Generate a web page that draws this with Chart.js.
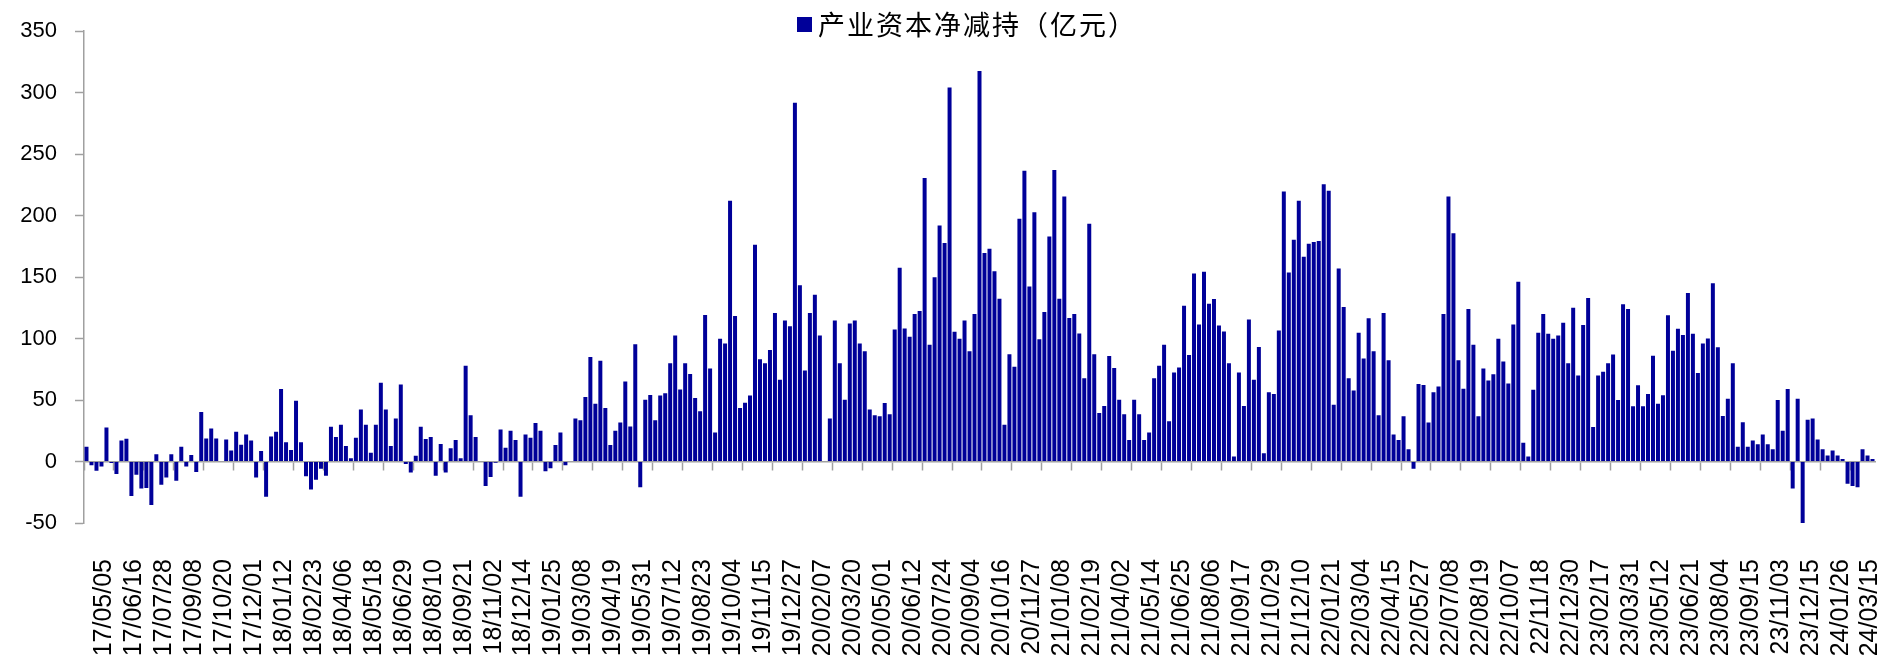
<!DOCTYPE html>
<html>
<head>
<meta charset="utf-8">
<script src="https://cdn.jsdelivr.net/npm/chart.js@4.4.1/dist/chart.umd.min.js"></script>
<style>
  html, body { margin: 0; padding: 0; background: #fff; }
  #chart { display: block; }
</style>
</head>
<body>
<canvas id="chart" width="1885" height="667"></canvas>
<script>
const seriesName = '产业资本净减持（亿元）';

// every 6th week gets a label on the axis
const tickLabels = [
  '17/05/05', '17/06/16', '17/07/28', '17/09/08', '17/10/20', '17/12/01',
  '18/01/12', '18/02/23', '18/04/06', '18/05/18', '18/06/29', '18/08/10',
  '18/09/21', '18/11/02', '18/12/14', '19/01/25', '19/03/08', '19/04/19',
  '19/05/31', '19/07/12', '19/08/23', '19/10/04', '19/11/15', '19/12/27',
  '20/02/07', '20/03/20', '20/05/01', '20/06/12', '20/07/24', '20/09/04',
  '20/10/16', '20/11/27', '21/01/08', '21/02/19', '21/04/02', '21/05/14',
  '21/06/25', '21/08/06', '21/09/17', '21/10/29', '21/12/10', '22/01/21',
  '22/03/04', '22/04/15', '22/05/27', '22/07/08', '22/08/19', '22/10/07',
  '22/11/18', '22/12/30', '23/02/17', '23/03/31', '23/05/12', '23/06/21',
  '23/08/04', '23/09/15', '23/11/03', '23/12/15', '24/01/26', '24/03/15'
];

// weekly net reduction, 100 million yuan
const values = [
  12, -3, -7.5, -4, 27.7, -1.3, -10.2, 17, 18.5, -28, -10.7, -22, -21.5, -35.4, 6, -18.8, -12.9, 6, -15.6, 12, -4,
  5.4, -8.6, 40.3, 18.8, 26.9, 18.8, 0, 18, 8.9, 24.2, 13.7, 22, 17.2, -12.9, 8.6, -28.7, 20.4, 24.2, 59, 15.6, 9.4, 49.4, 15.6, -12, -22.8,
  -14.8, -5.9, -11.5, 28.2, 20, 30, 12.6, 2.7, 19.3, 42.4, 30, 7.2, 30, 64, 42.4, 12.6, 35, 62.6, -2, -8.9, 4.6, 28.2, 18.3, 20, -11.5,
  14.2, -8.9, 10.7, 17.5, 2.7, 77.9, 37.6, 20, 0, -20, -12.6, -1, 26, 11.3, 25, 17.5, -28.7, 22, 19.3, 31.4, 25, -8, -5.4, 13.4, 23.6,
  -3, 0, 35, 33.6, 52.4, 85, 47, 82, 43.5, 13.4, 25, 31.7, 65, 28.5, 95.3, -21, 50.2, 54.2, 33.6, 53.7, 55.6, 80, 102.6, 58.5, 80,
  71.2, 51.6, 40.8, 119.2, 75.7, 23.6, 99.9, 95.9, 212, 118.4, 43.5, 47.8, 53.7, 176.4, 83.2, 80, 90.7, 120.8, 66.6, 114.6, 110.1, 291.9, 143.4, 74.1, 120.8,
  135.6, 102.6, 0, 35, 114.8, 80, 50.2, 112.2, 114.8, 95.9, 89.7, 42.4, 37.6, 36.8, 47.5, 38.4, 107.4, 157.6, 108.2, 101.5, 120, 122.4, 230.6, 95, 149.8,
  192, 177.7, 304.2, 105.5, 99.9, 114.6, 89.7, 120, 317.6, 169.6, 173.1, 154.7, 132.4, 30, 87.3, 77.1, 197.4, 236.4, 142.3, 202.7, 99.4, 121.6, 183.1, 237.2, 132.4, 215.6,
  116.8, 120, 104.2, 67.7, 193.3, 87.3, 39.5, 45.1, 85.9, 76, 50.2, 38.4, 17.5, 50.2, 38.4, 17.5, 23.6, 67.7, 77.9, 95, 32.8, 72.5, 76.5, 126.7, 86.7,
  153, 111.4, 154.4, 128.3, 132.1, 110.6, 105.8, 80, 4, 72.5, 45.1, 115.5, 66.6, 93.2, 6.7, 56.4, 55, 106.6, 219.6, 153.8, 180.4, 212.1, 166.5, 177.2, 178.5,
  179.4, 225.6, 220.2, 46.2, 157, 125.7, 67.7, 57.7, 104.7, 83.8, 116.5, 89.7, 37.6, 120.8, 82.4, 22, 17.5, 36.8, 9.9, -5.9, 63.1, 62.3, 31.7, 56.4, 61,
  120, 215.6, 185.6, 82.4, 59.1, 124, 95, 36.8, 75.7, 65.8, 70.9, 99.9, 81.4, 63.4, 111.4, 146.3, 15.3, 4, 58.3, 104.7, 120, 103.9, 99.9, 102.6, 112.8,
  80, 125, 70, 111, 133, 28, 70, 73, 80, 87, 50, 128, 124, 45, 62, 45, 55, 86, 47, 54, 119, 90, 108, 103, 137, 104, 72, 96, 100,
  145, 93, 37, 51, 80, 12, 32, 12, 17, 14, 22, 14, 10, 50, 25, 59, -22, 51, -50,
  34, 35, 18, 10, 5, 9, 5, 2, -18, -20, -21, 10, 5, 2
];

const categories = values.map((v, i) => (i % 6 === 0 && tickLabels[i / 6]) || '');

const axisGrey = '#a0a0a0';
const latin = 'Liberation Sans, Arial, sans-serif';

// series key drawn above the plot, like the original
const seriesKey = {
  id: 'seriesKey',
  afterDraw(chart) {
    const ds = chart.data.datasets[0];
    const ctx = chart.ctx;
    ctx.save();
    ctx.fillStyle = ds.backgroundColor;
    ctx.fillRect(797, 17, 15, 15);
    ctx.fillStyle = '#000';
    ctx.font = '27px "Noto Sans CJK SC"';
    ctx.letterSpacing = '2px';
    ctx.textBaseline = 'middle';
    ctx.fillText(ds.label, 818, 25);
    ctx.restore();
  }
};

new Chart(document.getElementById('chart'), {
  type: 'bar',
  data: {
    labels: categories,
    datasets: [{
      label: seriesName,
      data: values,
      backgroundColor: '#000099',
      borderWidth: 0,
      categoryPercentage: 1,
      barPercentage: 0.8,
      xAxisID: 'x',
      yAxisID: 'y'
    }]
  },
  plugins: [seriesKey],
  options: {
    responsive: false,
    animation: false,
    devicePixelRatio: 1,
    layout: { padding: { left: 0, right: 10, top: 27, bottom: 0 } },
    plugins: {
      legend: { display: false },
      tooltip: { enabled: false }
    },
    scales: {
      // axis line sits on zero, tick marks every 6 weeks
      x: {
        type: 'category',
        position: { y: 0 },
        offset: true,
        grid: {
          offset: true,
          drawOnChartArea: false,
          tickLength: 8,
          tickWidth: 1.5,
          tickColor: ctx => (ctx.index % 6 === 0 ? axisGrey : 'rgba(0,0,0,0)')
        },
        border: { color: axisGrey, width: 1.5 },
        ticks: { display: false, autoSkip: false },
        afterFit: s => { s.paddingRight = 0; }
      },
      // labels at the bottom of the plot
      xl: {
        type: 'category',
        position: 'bottom',
        offset: true,
        grid: { display: false },
        border: { display: false },
        ticks: {
          autoSkip: false,
          maxRotation: 90,
          minRotation: 90,
          padding: 28,
          labelOffset: 18,
          color: '#000',
          font: { family: latin, size: 25 }
        },
        afterFit: s => { s.height = 144; s.paddingRight = 0; }
      },
      y: {
        min: -50,
        max: 350,
        ticks: {
          stepSize: 50,
          padding: 18,
          color: '#000',
          font: { family: latin, size: 22 }
        },
        grid: { drawOnChartArea: false, tickLength: 9, color: axisGrey, tickWidth: 1.5 },
        border: { color: axisGrey, width: 1.5 },
        afterFit: s => { s.width = 84; }
      }
    }
  }
});
</script>
</body>
</html>
